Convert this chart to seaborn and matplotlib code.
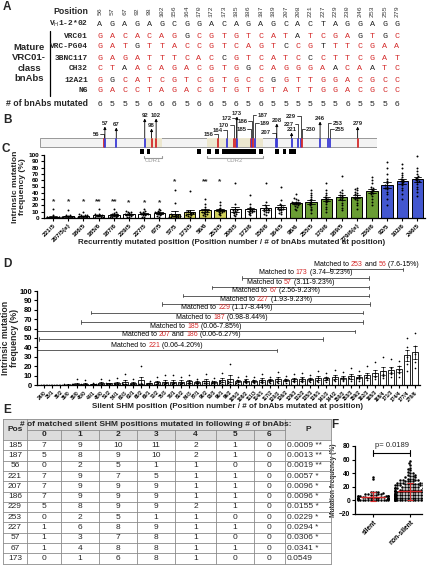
import numpy as np
import pandas as pd
import matplotlib
matplotlib.use('Agg')
import matplotlib.pyplot as plt
import seaborn as sns
from matplotlib.patches import Rectangle
from matplotlib.transforms import ScaledTranslation
import warnings

warnings.filterwarnings('ignore')

sns.set_theme(style='ticks')
plt.rcParams['font.family'] = ['Liberation Sans', 'DejaVu Sans']
MONO = 'Liberation Mono'
RED = '#d42a2a'
BLUE = '#3b3bd6'

# ==================== DATA ====================
# A: nucleotide alignment
positions = [56, 57, 67, 92, 98, 102, 156, 164, 170, 172, 173, 185, 186, 187,
             189, 207, 208, 221, 227, 229, 230, 246, 253, 255, 279]
germline = "AGAGAGCGGACAGAGCACTAGGAGG"
bnab_names = ['VRC01', 'VRC-PG04', '3BNC117', 'CH32', '12A21', 'N6']
bnab_seqs = ["GACACAGGCGTGTCATATCGAGTGC",
             "GATGTTACCGTCAGTCCGTTTCGAA",
             "GAGATTTCACCGTCATCCCTTCGAT",
             "CTAACAGACGTGGCAGGGAACAATC",
             "GGCATCGTCGTGCCGGTTGGACGCC",
             "GACCTAGACGTGTGTATTGGACGCC"]
n_mutated = [6, 5, 5, 5, 6, 6, 6, 5, 6, 6, 5, 6, 5, 6, 5, 5, 5, 5, 5, 5, 6, 5, 5, 5, 6]

# B: gene map (nt positions), label height and side
gene_length = 296
cdr1 = (91, 107)
cdr2 = (147, 196)
label_y = [26, 16, 17, 8, 18, 8, 26, 22, 17, 10, 6, 21, 13, 7,
           15, 25, 13, 22, 16, 8, 21, 11, 15, 21, 16]
label_side = ['left', 'top', 'top', 'top', 'top', 'top', 'left', 'left', 'left', 'left',
              'top', 'left', 'left', 'right', 'right', 'left', 'top', 'top', 'left', 'left',
              'right', 'top', 'right', 'right', 'top']
hotspots = [(88, 91), (94, 97), (138, 141), (147, 150), (154, 157), (160, 190),
            (192, 196), (206, 210), (213, 216), (219, 225)]

# C: recurrently mutated positions
C_labels = ['221/5', '207/5(e)', '186/5', '185/6', '187/6', '229/5', '227/5', '67/5',
            '57/5', '173/5', '56/6', '253/5', '208/5', '172/6', '156/6', '164/5',
            '98/6', '255/5', '170/6', '189/5', '279/6(e)', '230/6', '92/5', '102/6', '246/5']
C_points = [
    [0, 0, 0, 0, 0, 0, 1, 1, 2, 2, 4, 14],
    [0, 0, 0, 0, 1, 1, 2, 2, 3, 4, 5, 12],
    [0, 0, 0, 1, 1, 2, 3, 4, 5, 5, 6, 9],
    [0, 0, 1, 1, 2, 3, 4, 5, 5, 6, 7, 14],
    [0, 1, 1, 2, 3, 4, 5, 6, 7, 8, 9, 14],
    [1, 2, 3, 4, 5, 6, 6, 7, 8, 9, 10, 11],
    [1, 2, 4, 5, 6, 7, 7, 8, 9, 10, 11, 14],
    [2, 3, 5, 6, 7, 8, 8, 9, 10, 11, 12, 15],
    [0, 0, 1, 1, 2, 2, 3, 3, 4, 4, 5, 6, 24, 45],
    [2, 3, 4, 5, 6, 7, 8, 8, 9, 10, 11, 43],
    [3, 5, 6, 7, 8, 9, 10, 11, 12, 14, 18, 22, 30],
    [4, 6, 8, 9, 10, 11, 12, 13, 14, 16, 20, 25],
    [3, 5, 6, 8, 9, 10, 11, 12, 13, 15, 22, 55],
    [4, 6, 8, 9, 10, 11, 12, 13, 15, 18, 22, 36],
    [5, 7, 9, 10, 11, 12, 13, 14, 15, 17, 20, 25, 55],
    [6, 8, 10, 12, 13, 14, 15, 16, 17, 18, 20, 23, 28, 50],
    [12, 15, 17, 19, 20, 22, 23, 24, 25, 26, 28, 30, 32, 38],
    [8, 12, 15, 18, 20, 22, 24, 26, 28, 30, 33, 36, 40, 44],
    [10, 14, 18, 22, 25, 27, 29, 30, 32, 34, 36, 40, 45, 55],
    [12, 16, 20, 24, 28, 30, 32, 34, 35, 37, 40, 42, 45, 67],
    [15, 20, 24, 28, 30, 32, 34, 36, 38, 40, 42, 44, 46, 48],
    [20, 25, 30, 35, 38, 40, 42, 44, 46, 48, 50, 55, 60, 65],
    [20, 30, 38, 42, 46, 48, 50, 52, 55, 58, 62, 70, 80, 89],
    [30, 38, 44, 48, 52, 55, 57, 58, 60, 62, 65, 68, 72, 80, 85],
    [35, 42, 46, 50, 54, 57, 58, 60, 62, 64, 66, 70, 75, 80, 98],
]
C_colors = ['white'] * 8 + ['#e3e34a'] * 4 + ['white'] * 4 + ['#6aae23'] * 6 + ['#2c46e6'] * 3
C_stars = ['*', '*', '*', '**', '**', '*', '*', '*', '*', '', '**', '*'] + [''] * 13
C_star_y = [26, 26, 26, 26, 26, 24, 24, 24, 58, 0, 58, 58] + [0] * 13

# D: silent SHM positions
D_labels = ['24/0', '25/1', '36/2', '35/0', '38/0', '40/0', '44/1', '48/0', '51/2', '54/1',
            '60/3', '63/1', '66/2', '69/1', '72/2', '75/3', '78/1', '81/2', '84/3', '87/1',
            '90/2', '93/3', '96/1', '99/2', '105/3', '108/2', '111/3', '114/1', '117/2', '120/3',
            '126/2', '129/3', '132/2', '135/3', '138/1', '141/3', '144/2', '150/3', '153/3', '159/2',
            '162/3', '165/3', '168/4', '171/3', '174/4', '177/4', '270/6']
D_points = [
    [0, 0, 0, 0, 0.3], [0, 0, 0, 0.2, 0.5], [0, 0, 0.2, 0.4, 0.6], [0, 0, 0.3, 0.5, 1],
    [0, 0.2, 0.4, 0.8, 6], [0, 0.3, 0.6, 1, 5], [0, 0.4, 0.8, 1.2, 2], [0, 0.5, 1, 1.5, 6],
    [0.2, 0.6, 1, 1.6, 5], [0.2, 0.7, 1.2, 1.8, 7], [0.3, 0.8, 1.3, 2, 12], [0.3, 0.9, 1.4, 2.2, 6],
    [0.4, 1, 1.5, 2.4, 20], [0.5, 1.1, 1.6, 2.5, 4], [0.5, 1.2, 1.8, 2.7, 8], [0.6, 1.3, 2, 3, 11],
    [0.7, 1.4, 2.1, 3.2, 11], [0.8, 1.5, 2.2, 3.4, 9], [0.9, 1.6, 2.4, 3.6, 11], [1, 1.8, 2.6, 3.8, 6],
    [1, 2, 2.8, 4, 12], [1.2, 2.1, 3, 4.2, 7], [1.3, 2.2, 3.2, 4.4, 13], [1.4, 2.4, 3.4, 4.6, 22],
    [1.5, 2.6, 3.6, 4.8, 9], [1.6, 2.8, 3.8, 5, 10], [1.8, 3, 4, 5.2, 8], [2, 3.2, 4.2, 5.5, 12],
    [2.2, 3.4, 4.4, 5.8, 9], [2.4, 3.6, 4.6, 6, 14], [2.6, 3.8, 4.8, 6.3, 10], [2.8, 4, 5, 6.6, 12],
    [3, 4.2, 5.2, 7, 13], [3.2, 4.4, 5.5, 7.4, 11], [3.4, 4.6, 5.8, 7.8, 15], [3.6, 5, 6.2, 8.2, 13],
    [3.8, 5.4, 6.6, 8.6, 16], [4, 5.8, 7, 9, 14], [4.2, 6.2, 7.4, 9.5, 18], [4.5, 6.6, 7.8, 10, 15],
    [5, 7, 8.4, 11, 20], [6, 8, 10, 13, 25], [7, 10, 12, 15, 30], [8, 12, 14, 18, 28],
    [9, 13, 16, 20, 26], [15, 22, 30, 40, 50], [18, 25, 33, 42, 55],
]
D_matched = [('253', '56', '(7.6-15%)', 35.4, 44.5, 123),
             ('173', '', '(3.74–9.23%)', 24.5, 40.3, 114),
             ('57', '', '(3.11-9.23%)', 20.8, 40.3, 104),
             ('67', '', '(2.56-9.23%)', 17.2, 40.3, 95),
             ('227', '', '(1.93-9.23%)', 14.6, 40.4, 86),
             ('229', '', '(1.17-8.44%)', 5.8, 39.5, 77),
             ('187', '', '(0.98-8.44%)', 4.6, 39.5, 67),
             ('185', '', '(0.06-7.85%)', -0.9, 38.5, 57),
             ('207', '186', '(0.06-6.27%)', -0.7, 34.6, 49),
             ('221', '', '(0.06-4.20%)', -0.9, 28.9, 37)]

# E: table
E_pos = ['185', '187', '56', '221', '207', '186', '229', '253', '227', '57', '67', '173']
E_counts = [[7, 9, 10, 11, 2, 1, 0], [5, 8, 9, 10, 2, 1, 0], [0, 2, 5, 1, 1, 0, 0],
            [7, 9, 7, 5, 1, 1, 0], [7, 9, 9, 9, 1, 1, 0], [7, 9, 9, 9, 1, 1, 0],
            [5, 8, 9, 9, 2, 1, 0], [0, 2, 5, 1, 1, 0, 0], [1, 6, 8, 9, 1, 1, 0],
            [1, 3, 7, 8, 1, 0, 0], [1, 4, 8, 8, 1, 1, 0], [0, 1, 6, 8, 1, 0, 0]]
E_p = ['0.0009 **', '0.0013 **', '0.0019 **', '0.0057 *', '0.0096 *', '0.0096 *',
       '0.0155 *', '0.0229 *', '0.0294 *', '0.0306 *', '0.0341 *', '0.0549']

# F: mutation frequency, silent vs non-silent (value, count)
F_silent_vals = [0, 1, 2, 3, 4, 5, 6, 7, 8, 9, 10, 11, 12, 13, 31, 35]
F_silent_counts = [7, 6, 6, 5, 5, 4, 4, 3, 3, 2, 2, 1, 2, 2, 1, 1]
F_ns_vals = [0, 2, 4, 6, 8, 10, 12, 14, 16, 18, 20, 22, 24, 26, 28, 30, 32, 34, 36, 38,
             40, 42, 44, 46, 48, 52, 55, 58]
F_ns_counts = [20, 19, 18, 16, 15, 13, 11, 10, 9, 8, 7, 6, 6, 5, 4, 4, 3, 2, 2, 2,
               2, 1, 1, 1, 1, 1, 1, 1]
F_p = 'p= 0.0189'

# ==================== FIGURE ====================
W, H = 431, 565
fig = plt.figure(figsize=(W / 100, H / 100), dpi=100)


def px_axes(x0, y0, x1, y1):
    a = fig.add_axes([x0 / W, 1 - y1 / H, (x1 - x0) / W, (y1 - y0) / H])
    a.set_facecolor('none')
    return a


def graphpad(a, fs):
    sns.despine(ax=a)
    for s in ['left', 'bottom']:
        a.spines[s].set_linewidth(0.9)
        a.spines[s].set_color('black')
    a.tick_params(width=0.8, length=2.5, pad=1, labelsize=fs, colors='black')
    for t in a.get_yticklabels():
        t.set_fontweight('bold')


# ---------- B ----------
axB = px_axes(40, 108, 377, 162)
axB.set_xlim(0, gene_length)
axB.set_ylim(54, 0)
axB.axis('off')
axB.add_patch(Rectangle((0, 30), gene_length, 9, fc='#f3f3f3', ec='#8a8a8a', lw=0.6))
for c in (cdr1, cdr2):
    axB.add_patch(Rectangle((c[0], 30), c[1] - c[0], 9, fc='#ece7cf', ec='none', zorder=2))
    axB.plot([c[0], c[0], c[1], c[1]], [48, 50, 50, 48], color='#999999', lw=0.8)
axB.text(sum(cdr1) / 2, 53, 'CDR1', ha='center', va='center', fontsize=4.3, color='#999999')
axB.text(sum(cdr2) / 2, 53, 'CDR2', ha='center', va='center', fontsize=4.3, color='#999999')
for a0, a1 in hotspots:
    axB.add_patch(Rectangle((a0, 41), a1 - a0, 4.5, fc='black', ec='none'))
for p, n, ly, side in zip(positions, n_mutated, label_y, label_side):
    axB.plot([p, p], [30.5, 38.5], color=RED if n == 6 else BLUE, lw=1.3, zorder=3)
    if side == 'top':
        axB.annotate('', xy=(p, ly + 2.5), xytext=(p, 30),
                     arrowprops=dict(arrowstyle='-|>', lw=0.6, color='black',
                                     mutation_scale=4, shrinkA=0, shrinkB=0))
        axB.text(p, ly + 1.5, str(p), ha='center', va='bottom', fontsize=4.3, fontweight='bold')
    else:
        d = -3 if side == 'left' else 3
        axB.plot([p, p, p + d], [30, ly, ly], color='black', lw=0.5)
        axB.text(p + d * 1.3, ly, str(p), ha='right' if side == 'left' else 'left',
                 va='center', fontsize=4.3, fontweight='bold')

# ---------- C ----------
df_C = pd.DataFrame({'pos': np.repeat(C_labels, [len(v) for v in C_points]),
                     'freq': np.concatenate(C_points)})
axC = px_axes(44, 155, 425, 218)
sns.barplot(data=df_C, x='pos', y='freq', hue='pos', order=C_labels, hue_order=C_labels,
            palette=C_colors, legend=False, errorbar='se', capsize=0.5, width=0.75,
            edgecolor='black', linewidth=0.7, err_kws={'linewidth': 0.6, 'color': 'black'}, ax=axC)
sns.swarmplot(data=df_C, x='pos', y='freq', order=C_labels, color='black', size=1.4, ax=axC)
for i, (s, y) in enumerate(zip(C_stars, C_star_y)):
    if s:
        axC.text(i, y, s, ha='center', va='center', fontsize=6, fontweight='bold')
axC.set_xlim(-0.6, 24.5)
axC.set_ylim(0, 100)
axC.set_yticks(range(0, 101, 10))
graphpad(axC, 4.6)
axC.set_xticks(range(len(C_labels)))
axC.set_xticklabels(C_labels, rotation=45, ha='right', rotation_mode='anchor',
                    fontsize=4.6, fontweight='bold')
axC.set_xlabel('')
axC.set_ylabel('Intrinsic mutation\nfrequency (%)', fontsize=6.1, fontweight='bold', labelpad=1.5,
               linespacing=1.0)

# ---------- D ----------
df_D = pd.DataFrame({'pos': np.repeat(D_labels, [len(v) for v in D_points]),
                     'freq': np.concatenate(D_points)})
axD = px_axes(37, 291, 420, 385)
sns.barplot(data=df_D, x='pos', y='freq', order=D_labels, color='white', errorbar='se',
            capsize=0.5, width=0.75, edgecolor='black', linewidth=0.6,
            err_kws={'linewidth': 0.5, 'color': 'black'}, ax=axD)
sns.swarmplot(data=df_D, x='pos', y='freq', order=D_labels, color='black', size=1.2, ax=axD)
axD.set_xlim(-0.9, len(D_labels) - 0.4)
axD.set_ylim(0, 100)
axD.set_yticks(range(0, 101, 10))
graphpad(axD, 5.5)
axD.set_xticks(range(len(D_labels)))
axD.set_xticklabels(D_labels, rotation=45, ha='right', rotation_mode='anchor',
                    fontsize=3.6, fontweight='bold')
axD.set_xlabel('')
axD.set_ylabel('Intrinsic mutation\nfrequency (%)', fontsize=6.3, fontweight='bold', labelpad=0.5,
               linespacing=1.0)

fig.canvas.draw()
rend = fig.canvas.get_renderer()
for n1, n2, rng, x0, x1, y in D_matched:
    axD.plot([x0, x1], [y, y], color='#444444', lw=0.6, clip_on=False)
    for xx in (x0, x1):
        axD.plot([xx, xx], [y - 1.8, y + 1.8], color='#444444', lw=0.6, clip_on=False)
    parts = [('Matched to ', 'black'), (n1, RED)]
    if n2:
        parts += [(' and ', 'black'), (n2, RED)]
    parts += [(' ' + rng, 'black')]
    texts = []
    t = axD.text((x0 + x1) / 2, y + 1.5, parts[0][0], color=parts[0][1], fontsize=5,
                 ha='left', va='bottom', clip_on=False)
    texts.append(t)
    for s, c in parts[1:]:
        t = axD.annotate(s, xy=(1, 0), xycoords=t, color=c, fontsize=5, ha='left', va='bottom')
        texts.append(t)
    fig.canvas.draw()
    total = sum(tt.get_window_extent(rend).width for tt in texts)
    texts[0].set_transform(axD.transData + ScaledTranslation(-total / 2 / fig.dpi, 0,
                                                              fig.dpi_scale_trans))

# ---------- F ----------
df_F = pd.DataFrame({'group': ['silent'] * sum(F_silent_counts) + ['non-silent'] * sum(F_ns_counts),
                     'freq': np.concatenate([np.repeat(F_silent_vals, F_silent_counts),
                                             np.repeat(F_ns_vals, F_ns_counts)])})
axF = px_axes(355, 446, 422, 514)
sns.swarmplot(data=df_F, x='group', y='freq', order=['silent', 'non-silent'], color='black',
              size=1.8, ax=axF)
for i, g in enumerate(['silent', 'non-silent']):
    v = df_F.loc[df_F['group'] == g, 'freq']
    m, s = v.mean(), v.std()
    axF.errorbar(i, m, yerr=s, color=RED, capsize=2.5, lw=0.8, capthick=0.8, zorder=5)
    axF.plot([i - 0.32, i + 0.32], [m, m], color=RED, lw=1, zorder=5)
axF.plot([0, 1], [70, 70], color='black', lw=0.8, clip_on=False)
axF.plot([0, 0], [66, 74], color='black', lw=0.8, clip_on=False)
axF.plot([1, 1], [66, 74], color='black', lw=0.8, clip_on=False)
axF.text(0.5, 75, F_p, ha='center', va='bottom', fontsize=5.5)
axF.set_xlim(-0.49, 1.32)
axF.set_ylim(-20, 80)
axF.set_yticks(range(-20, 81, 20))
graphpad(axF, 4.8)
axF.set_xticks([0, 1])
axF.set_xticklabels(['silent', 'non-silent'], rotation=45, ha='right', rotation_mode='anchor',
                    fontsize=4.8, fontweight='bold')
axF.set_xlabel('')
axF.set_ylabel('Mutation frequency (%)', fontsize=4.8, fontweight='bold', labelpad=1)

# ---------- overlay: A, E, panel letters ----------
ov = px_axes(0, 0, W, H)
ov.set_xlim(0, W)
ov.set_ylim(H, 0)
ov.axis('off')

for lab, x, y in [('A', 3, 7), ('B', 3, 120), ('C', 2, 149), ('D', 3, 264), ('E', 3, 410), ('F', 331, 425)]:
    ov.text(x, y, lab, fontsize=8.5, fontweight='bold', ha='left', va='center')

col_x0, col_dx = 100, 12.375
row_y = [36, 47, 58, 69, 80, 91]
ov.text(88, 12, 'Position', ha='right', va='center', fontsize=6.3, fontweight='bold')
ov.text(88, 24, r'V$_{\mathrm{H}}$1-2*02', ha='right', va='center', fontsize=5.7,
        family=MONO, fontweight='bold')
for name, y in zip(bnab_names, row_y):
    ov.text(88, y, name, ha='right', va='center', fontsize=5.7, family=MONO, fontweight='bold')
ov.text(29, 63, 'Mature\nVRC01-\nclass\nbnAbs', ha='center', va='center', fontsize=6.8,
        fontweight='bold', linespacing=1.2)
ov.plot([50, 50], [31, 96], color='black', lw=0.9)
ov.text(88, 104, '# of bnAbs mutated', ha='right', va='center', fontsize=6.3, fontweight='bold')
for i, (p, g, n) in enumerate(zip(positions, germline, n_mutated)):
    x = col_x0 + i * col_dx
    ov.text(x, 11, str(p), rotation=90, ha='center', va='center', fontsize=4.6, family=MONO,
            color='#333333')
    ov.text(x, 24, g, ha='center', va='center', fontsize=6, family=MONO, color='#222222')
    for seq, y in zip(bnab_seqs, row_y):
        ov.text(x, y, seq[i], ha='center', va='center', fontsize=6, family=MONO,
                color=RED if seq[i] != g else '#222222')
    ov.text(x, 104, str(n), ha='center', va='center', fontsize=6, color='#222222')

# x-axis titles of C and D
ov.text(232, 243, 'Recurrently mutated position (Position number / # of bnAbs mutated at position)',
        ha='center', va='center', fontsize=5.8, fontweight='bold')
ov.text(228, 406, 'Silent SHM position (Position number / # of bnAbs mutated at position)',
        ha='center', va='center', fontsize=5.8, fontweight='bold')

# E table
col_edges = [3, 27, 61, 99, 137, 175, 216, 254, 285, 331]
top, h1, h2, rh = 419, 11, 10, 10.3
ov.add_patch(Rectangle((col_edges[0], top), col_edges[-1] - col_edges[0], h1 + h2,
                       fc='#dcdcdc', ec='none'))
y_rows = [top + h1 + h2 + rh * k for k in range(len(E_pos) + 1)]
bottom = y_rows[-1]
gc = '#8c8c8c'
ov.plot([col_edges[0], col_edges[-1]], [top, top], color=gc, lw=0.6)
ov.plot([col_edges[1], col_edges[-2]], [top + h1, top + h1], color=gc, lw=0.6)
for y in y_rows:
    ov.plot([col_edges[0], col_edges[-1]], [y, y], color=gc, lw=0.6)
for k, x in enumerate(col_edges):
    y0 = top if k in (0, 1, 8, 9) else top + h1
    ov.plot([x, x], [y0, bottom], color=gc, lw=0.6)
ov.text(15, top + (h1 + h2) / 2, 'Pos', ha='center', va='center', fontsize=6, fontweight='bold')
ov.text((col_edges[1] + col_edges[8]) / 2, top + h1 / 2,
        '# of matched silent SHM positions mutated in following # of bnAbs:',
        ha='center', va='center', fontsize=6, fontweight='bold')
ov.text((col_edges[8] + col_edges[9]) / 2, top + (h1 + h2) / 2, 'P', ha='center', va='center',
        fontsize=6, fontweight='bold')
for j in range(7):
    ov.text((col_edges[j + 1] + col_edges[j + 2]) / 2, top + h1 + h2 / 2, str(j),
            ha='center', va='center', fontsize=6, fontweight='bold')
for r, (pos, cnts, pv) in enumerate(zip(E_pos, E_counts, E_p)):
    yc = y_rows[r] + rh / 2
    ov.text(15, yc, pos, ha='center', va='center', fontsize=6)
    for j, c in enumerate(cnts):
        ov.text((col_edges[j + 1] + col_edges[j + 2]) / 2, yc, str(c), ha='center',
                va='center', fontsize=6)
    ov.text(287, yc, pv, ha='left', va='center', fontsize=6)

fig.savefig('out.png', dpi=100)
